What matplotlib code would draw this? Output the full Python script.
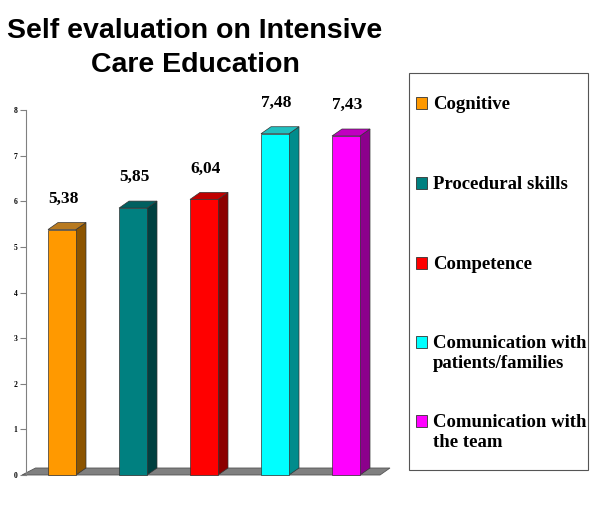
import matplotlib.pyplot as plt
from matplotlib.patches import Polygon, Rectangle

categories = ['Cognitive', 'Procedural skills', 'Competence',
              'Comunication with\npatients/families', 'Comunication with\nthe team']
values = [5.38, 5.85, 6.04, 7.48, 7.43]
labels = ['5,38', '5,85', '6,04', '7,48', '7,43']
front = ['#FF9900', '#008080', '#FF0000', '#00FFFF', '#FF00FF']
side = ['#8C5400', '#004040', '#8C0000', '#008C8C', '#8C008C']
top = ['#B87A20', '#006060', '#C00000', '#20C0C0', '#C000C0']

W, H = 600, 509
fig = plt.figure(figsize=(6, 5.09), dpi=100)
# axes: left edge at x=26px, y=0 at 475px, y=8 at 110px
ax = fig.add_axes([26 / W, (H - 475) / H, (400 - 26) / W, 365 / H])
px_x = 71.0           # pixels per x unit
px_y = 365 / 8.0      # pixels per y unit
ax.set_xlim(-36 / px_x, (400 - 62) / px_x)
ax.set_ylim(0, 8)

dx = 10 / px_x
dy = 7 / px_y
bw = 28 / px_x

# floor
floor = Polygon([(-40 / px_x, 0), (318 / px_x, 0), (318 / px_x + dx, dy), (-40 / px_x + dx + 0.05, dy)],
                closed=True, facecolor='#808080', edgecolor='#555555', lw=0.6, clip_on=False, zorder=1)
ax.add_patch(floor)

for i, v in enumerate(values):
    x0, x1 = i - bw / 2, i + bw / 2
    ax.add_patch(Polygon([(x1, 0), (x1 + dx, dy), (x1 + dx, v + dy), (x1, v)],
                         facecolor=side[i], edgecolor='#333333', lw=0.5, zorder=2, clip_on=False))
    ax.add_patch(Polygon([(x0, v), (x1, v), (x1 + dx, v + dy), (x0 + dx, v + dy)],
                         facecolor=top[i], edgecolor='#333333', lw=0.5, zorder=2, clip_on=False))
    ax.add_patch(Rectangle((x0, 0), bw, v, facecolor=front[i], edgecolor='#333333', lw=0.5,
                           zorder=3, clip_on=False))
    ax.text(i + 0.02, v + 0.5, labels[i], ha='center', va='bottom', fontsize=12.5,
            fontweight='bold', family='Liberation Serif')

for s in ['top', 'right', 'bottom']:
    ax.spines[s].set_visible(False)
ax.spines['left'].set_color('#808080')
ax.set_xticks([])
ax.set_yticks(range(0, 9))
ax.tick_params(axis='y', length=4, width=0.8, color='#808080', labelsize=5.5, pad=2)
for t in ax.get_yticklabels():
    t.set_fontfamily('Liberation Serif')
    t.set_fontweight('bold')

fig.text(195 / W, 1 - 48 / H, 'Self evaluation on Intensive\nCare Education', ha='center', va='center',
         fontsize=20.5, fontweight='bold', family='Liberation Sans', linespacing=1.35)

# legend box
fig.patches.append(Rectangle((409 / W, 1 - 470 / H), 179 / W, 397 / H, transform=fig.transFigure,
                             facecolor='white', edgecolor='#555555', lw=0.8))
ys = [103, 183, 263, 352, 431]
for i, name in enumerate(categories):
    y = ys[i]
    ny = name.count('\n')
    sq_y = y - ny * 10
    fig.patches.append(Rectangle((416 / W, 1 - (sq_y + 6) / H), 11 / W, 12 / H, transform=fig.transFigure,
                                 facecolor=front[i], edgecolor='#333333', lw=0.6))
    fig.text(433 / W, 1 - (sq_y - 7) / H, name, ha='left', va='top', fontsize=13.5,
             fontweight='bold', family='Liberation Serif', linespacing=1.25)

fig.savefig('out.png', dpi=100)
